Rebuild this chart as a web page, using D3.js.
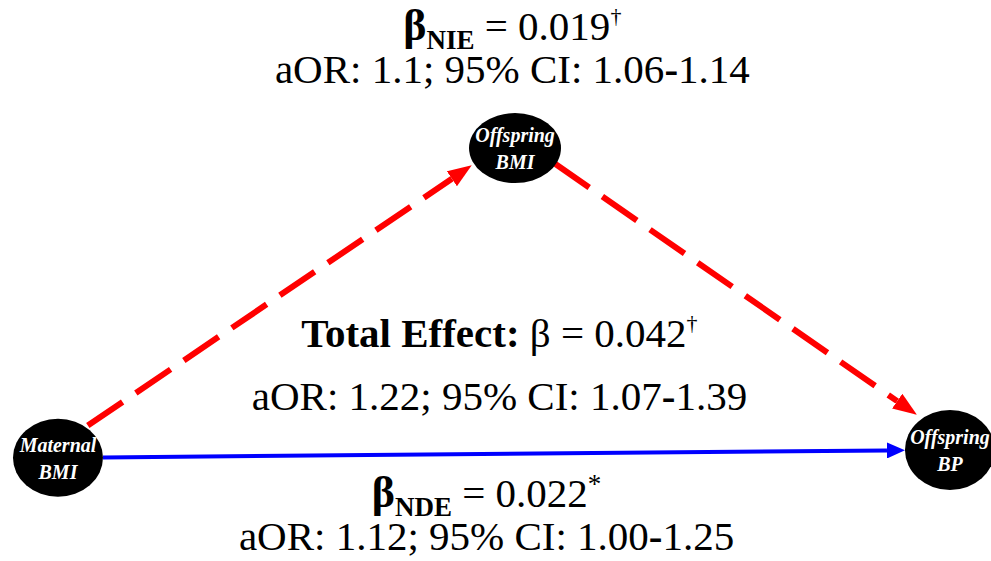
<!DOCTYPE html>
<html>
<head>
<meta charset="utf-8">
<script src="https://cdn.jsdelivr.net/npm/d3@7"></script>
<style>
  body { margin: 0; background: #fff; }
  svg { display: block; }
</style>
</head>
<body>
<div class="graph"></div>
<script>
// nodes of the mediation diagram
const nodeIds = ["mat", "offBmi", "offBp"];
const nodeLines = [["Maternal", "BMI"], ["Offspring", "BMI"], ["Offspring", "BP"]];

// paths between nodes
const edgeFrom = ["mat", "offBmi", "mat"];
const edgeTo = ["offBmi", "offBp", "offBp"];
const edgeKind = ["indirect", "indirect", "direct"];

// effect estimates
const effectNames = ["NIE", "Total", "NDE"];
const effectBeta = ["0.019", "0.042", "0.022"];
const effectMark = ["\u2020", "\u2020", "*"];
const effectOR = ["1.1", "1.22", "1.12"];
const effectLo = ["1.06", "1.07", "1.00"];
const effectHi = ["1.14", "1.39", "1.25"];

const width = 991, height = 561;

// layout, in a unit box mapped to pixels by the scales below
const layout = {
  mat:    { x: 0.0585, y: 0.816, rx: 45, ry: 39 },
  offBmi: { x: 0.5197, y: 0.264, rx: 46, ry: 35 },
  offBp:  { x: 0.9586, y: 0.802, rx: 45, ry: 40 }
};
const labelPos = {
  NIE:   { x: 0.517, y1: 40,  y2: 83 },
  Total: { x: 0.504, y1: 347, y2: 410 },
  NDE:   { x: 0.491, y1: 507, y2: 550 }
};

const x = d3.scaleLinear().domain([0, 1]).range([0, width]);
const y = d3.scaleLinear().domain([0, 1]).range([0, height]);

const serif = "'Liberation Serif', 'Times New Roman', serif";

const svg = d3.select(".graph").append("svg")
  .attr("width", width)
  .attr("height", height);

const defs = svg.append("defs");
const kinds = {
  indirect: { color: "#ff0000", w: 6, dash: "42,16", head: 24, half: 9 },
  direct:   { color: "#0000ff", w: 4, dash: null, head: 18, half: 8 }
};
Object.keys(kinds).forEach(function(k){
  const s = kinds[k];
  defs.append("marker")
    .attr("id", "arrow-" + k)
    .attr("markerUnits", "userSpaceOnUse")
    .attr("viewBox", "0 " + (-s.half) + " " + s.head + " " + (2 * s.half))
    .attr("refX", 0)
    .attr("refY", 0)
    .attr("markerWidth", s.head)
    .attr("markerHeight", 2 * s.half)
    .attr("orient", "auto")
    .append("path")
    .attr("d", "M0," + (-s.half) + "L" + s.head + ",0L0," + s.half + "Z")
    .attr("fill", s.color);
});

const nodes = nodeIds.map(function(id, i){
  const l = layout[id];
  return { id: id, lines: nodeLines[i], cx: x(l.x), cy: y(l.y), rx: l.rx, ry: l.ry };
});
const byId = {};
nodes.forEach(function(n){ byId[n.id] = n; });

// point where the ray from the centre in direction (ux,uy) leaves the ellipse
function boundary(n, ux, uy){
  const t = 1 / Math.sqrt((ux / n.rx) * (ux / n.rx) + (uy / n.ry) * (uy / n.ry));
  return [n.cx + ux * t, n.cy + uy * t];
}

const edges = edgeFrom.map(function(f, i){
  const a = byId[f], b = byId[edgeTo[i]];
  const s = kinds[edgeKind[i]];
  let dx = b.cx - a.cx, dy = b.cy - a.cy;
  const len = Math.sqrt(dx * dx + dy * dy);
  const ux = dx / len, uy = dy / len;
  // dashed paths run a little above the centre line
  const off = edgeKind[i] === "indirect" ? 10 : 0;
  const nx = uy * off, ny = -ux * off;
  const p0 = boundary(a, ux, uy);
  const p1 = boundary(b, -ux, -uy);
  const gapEnd = edgeKind[i] === "indirect" ? 4 : 0;
  return {
    kind: edgeKind[i],
    x1: p0[0] + nx, y1: p0[1] + ny,
    x2: p1[0] + nx - ux * (s.head + gapEnd), y2: p1[1] + ny - uy * (s.head + gapEnd)
  };
});

svg.selectAll(".edge")
  .data(edges)
  .enter().append("line")
  .attr("class", "edge")
  .attr("x1", d => d.x1).attr("y1", d => d.y1)
  .attr("x2", d => d.x2).attr("y2", d => d.y2)
  .attr("stroke", d => kinds[d.kind].color)
  .attr("stroke-width", d => kinds[d.kind].w)
  .attr("stroke-dasharray", d => kinds[d.kind].dash)
  .attr("marker-end", d => "url(#arrow-" + d.kind + ")");

const nodeG = svg.selectAll(".node")
  .data(nodes)
  .enter().append("g")
  .attr("class", "node")
  .attr("transform", d => "translate(" + d.cx + "," + d.cy + ")");

nodeG.append("ellipse")
  .attr("rx", d => d.rx)
  .attr("ry", d => d.ry)
  .attr("fill", "#000");

nodeG.append("text")
  .attr("text-anchor", "middle")
  .attr("font-family", serif)
  .attr("font-style", "italic")
  .attr("font-weight", "bold")
  .attr("font-size", 20)
  .attr("fill", "#fff")
  .each(function(d){
    d3.select(this).selectAll("tspan")
      .data(d.lines)
      .enter().append("tspan")
      .attr("x", 0)
      .attr("y", (t, i) => -6 + i * 27)
      .text(String);
  });

// effect labels
effectNames.forEach(function(name, i){
  const p = labelPos[name];
  const t1 = svg.append("text")
    .attr("x", x(p.x))
    .attr("y", p.y1)
    .attr("text-anchor", "middle")
    .attr("font-family", serif)
    .attr("font-size", 41)
    .attr("fill", "#000");
  if (name === "Total") {
    t1.append("tspan").attr("font-weight", "bold").text("Total Effect: ");
    t1.append("tspan").text("\u03b2 = " + effectBeta[i]);
  } else {
    t1.append("tspan").attr("font-weight", "bold").attr("font-size", 44).text("\u03b2");
    t1.append("tspan").attr("font-weight", "bold").attr("font-size", 27).attr("dy", 9).text(name);
    t1.append("tspan").attr("dy", -9).text(" = " + effectBeta[i]);
  }
  const mark = effectMark[i];
  t1.append("tspan")
    .attr("font-size", mark === "*" ? 27 : 22)
    .attr("dy", mark === "*" ? -14 : -17)
    .text(mark);

  const t2 = svg.append("text")
    .attr("x", x(p.x))
    .attr("y", p.y2)
    .attr("text-anchor", "middle")
    .attr("font-family", serif)
    .attr("font-size", 41)
    .attr("fill", "#000");
  t2.append("tspan").text("aOR: " + effectOR[i] + "; 95% CI: " + effectLo[i]);
  t2.append("tspan").attr("font-weight", "bold").text("-");
  t2.append("tspan").text(effectHi[i]);
});
</script>
</body>
</html>
